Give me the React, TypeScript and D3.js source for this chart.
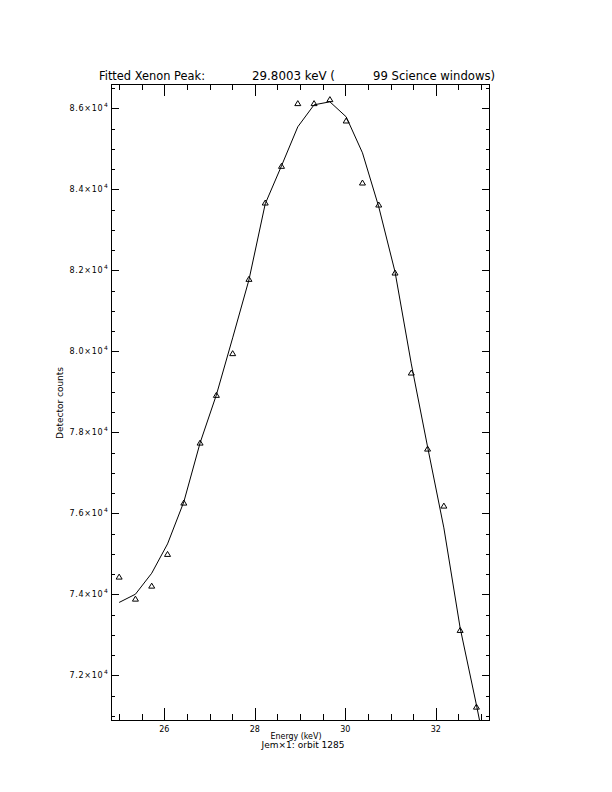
import React from "react";
import * as d3 from "d3";

// Energy (keV) of each science bin
const energies = [25.0, 25.36, 25.72, 26.07, 26.43, 26.79, 27.15, 27.51, 27.87, 28.23, 28.59, 28.95, 29.31, 29.66, 30.02, 30.38, 30.74, 31.1, 31.46, 31.82, 32.18, 32.54, 32.9];
// Measured detector counts (triangles)
const counts = [74440, 73896, 74217, 75000, 76267, 77748, 78926, 79956, 81790, 83674, 84580, 86128, 86128, 86227, 85699, 84168, 83625, 81946, 79477, 77600, 76193, 73123, 71230];
// Fitted curve
const fitEnergies = [25.0, 25.36, 25.72, 26.07, 26.43, 26.79, 27.15, 27.51, 27.87, 28.23, 28.59, 28.95, 29.31, 29.66, 30.02, 30.38, 30.74, 31.1, 31.46, 31.82, 32.18, 32.54, 32.9, 33.26];
const fitCounts = [73802, 74005, 74523, 75247, 76284, 77741, 78926, 80333, 81765, 83642, 84580, 85543, 86086, 86160, 85790, 84901, 83568, 81963, 79691, 77642, 75642, 73173, 71272, 69272];

const xMajorTicks = [26, 28, 30, 32];
const xMinorTicks = [25, 25.5, 26.5, 27, 27.5, 28.5, 29, 29.5, 30.5, 31, 31.5, 32.5, 33];
const yMajorTicks = [72000, 74000, 76000, 78000, 80000, 82000, 84000, 86000];
const yTickLabels = ["7.2", "7.4", "7.6", "7.8", "8.0", "8.2", "8.4", "8.6"];
const yMinorTicks = [71000, 71500, 72500, 73000, 73500, 74500, 75000, 75500, 76500, 77000, 77500, 78500, 79000, 79500, 80500, 81000, 81500, 82500, 83000, 83500, 84500, 85000, 85500, 86500];

const L = 111, R = 490, T = 84, B = 720;
const FONT = "'DejaVu Sans', sans-serif";

export default function App() {
  const x = d3.scaleLinear().domain([24.82, 33.2]).range([L, R]);
  const y = d3.scaleLinear().domain([70900, 86600]).range([B, T]);
  const line = d3.line<number>().x((_, i) => x(fitEnergies[i])).y((d) => y(d));
  const tri = "M-3,2.5L0,-2.5L3,2.5Z";

  return (
    <svg width={612} height={792} style={{ position: "absolute", left: 0, top: 0, background: "#fff" }}>
      <defs>
        <clipPath id="plotclip">
          <rect x={L} y={T} width={R - L} height={B - T} />
        </clipPath>
      </defs>
      <rect x={0} y={0} width={612} height={792} fill="#fff" />
      {/* frame */}
      <rect x={L + 0.5} y={T + 0.5} width={R - L - 1} height={B - T} fill="none" stroke="#000" strokeWidth={1} shapeRendering="crispEdges" />
      {/* x ticks */}
      <g stroke="#000" strokeWidth={1} shapeRendering="crispEdges">
        {xMajorTicks.map((t) => (
          <g key={"xm" + t}>
            <line x1={Math.round(x(t)) + 0.5} x2={Math.round(x(t)) + 0.5} y1={B} y2={B - 12} />
            <line x1={Math.round(x(t)) + 0.5} x2={Math.round(x(t)) + 0.5} y1={T} y2={T + 12} />
          </g>
        ))}
        {xMinorTicks.map((t) => (
          <g key={"xn" + t}>
            <line x1={Math.round(x(t)) + 0.5} x2={Math.round(x(t)) + 0.5} y1={B} y2={B - 6} />
            <line x1={Math.round(x(t)) + 0.5} x2={Math.round(x(t)) + 0.5} y1={T} y2={T + 6} />
          </g>
        ))}
        {yMajorTicks.map((t) => (
          <g key={"ym" + t}>
            <line x1={L} x2={L + 8} y1={Math.round(y(t)) + 0.5} y2={Math.round(y(t)) + 0.5} />
            <line x1={R} x2={R - 8} y1={Math.round(y(t)) + 0.5} y2={Math.round(y(t)) + 0.5} />
          </g>
        ))}
        {yMinorTicks.map((t) => (
          <g key={"yn" + t}>
            <line x1={L} x2={L + 4} y1={Math.round(y(t)) + 0.5} y2={Math.round(y(t)) + 0.5} />
            <line x1={R} x2={R - 4} y1={Math.round(y(t)) + 0.5} y2={Math.round(y(t)) + 0.5} />
          </g>
        ))}
      </g>
      {/* x tick labels */}
      <g fontFamily={FONT} fontSize={8} fill="#000" textAnchor="middle">
        {xMajorTicks.map((t) => (
          <text key={"xl" + t} x={x(t)} y={732}>{t}</text>
        ))}
      </g>
      {/* y tick labels */}
      <g fontFamily={FONT} fill="#000">
        {yMajorTicks.map((t, i) => (
          <g key={"yl" + t}>
            <text x={69.5} y={y(t) + 3} fontSize={8} textLength={33} lengthAdjust="spacing">{yTickLabels[i] + "×10"}</text>
            <text x={104} y={y(t) - 1} fontSize={6}>4</text>
          </g>
        ))}
      </g>
      {/* axis titles */}
      <text fontFamily={FONT} fontSize={8.5} x={0} y={0} textAnchor="middle" textLength={72} lengthAdjust="spacingAndGlyphs"
        transform={`translate(63,403) rotate(-90)`}>Detector counts</text>
      <text fontFamily={FONT} fontSize={8} x={296} y={739} textAnchor="middle" textLength={51} lengthAdjust="spacingAndGlyphs">Energy (keV)</text>
      <text fontFamily={FONT} fontSize={8} x={303} y={747.5} textAnchor="middle" textLength={83} lengthAdjust="spacingAndGlyphs">Jem×1: orbit 1285</text>
      {/* title */}
      <g fontFamily={FONT} fontSize={11.5} fill="#000">
        <text x={99} y={80} textLength={106} lengthAdjust="spacingAndGlyphs">Fitted Xenon Peak:</text>
        <text x={252} y={80} textLength={83} lengthAdjust="spacingAndGlyphs">29.8003 keV (</text>
        <text x={373} y={80} textLength={122} lengthAdjust="spacingAndGlyphs">99 Science windows)</text>
      </g>
      {/* fitted curve */}
      <path d={line(fitCounts) || ""} fill="none" stroke="#000" strokeWidth={1} clipPath="url(#plotclip)" />
      {/* data points */}
      {counts.map((c, i) => (
        <path key={"p" + i} d={tri} transform={`translate(${x(energies[i])},${y(c)})`} fill="none" stroke="#000" strokeWidth={1} />
      ))}
    </svg>
  );
}
